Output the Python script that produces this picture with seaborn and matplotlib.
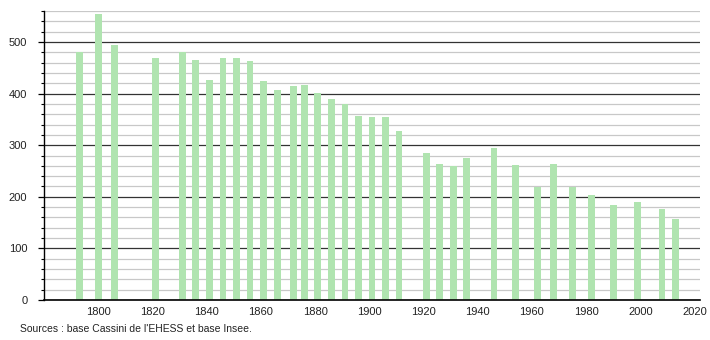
import matplotlib
matplotlib.use("Agg")
import matplotlib.pyplot as plt
import seaborn as sns
import numpy as np
import pandas as pd

years = [1793, 1800, 1806, 1821, 1831, 1836, 1841, 1846, 1851, 1856, 1861,
         1866, 1872, 1876, 1881, 1886, 1891, 1896, 1901, 1906, 1911, 1921,
         1926, 1931, 1936, 1946, 1954, 1962, 1968, 1975, 1982, 1990, 1999,
         2008, 2013]
population = [480, 555, 495, 468, 481, 465, 426, 469, 468, 464, 424,
              407, 415, 417, 401, 390, 380, 357, 355, 355, 328, 285,
              264, 260, 276, 295, 262, 219, 264, 219, 204, 185, 190,
              177, 156]
x_ticks = [1800, 1820, 1840, 1860, 1880, 1900, 1920, 1940, 1960, 1980, 2000, 2020]
y_ticks = [0, 100, 200, 300, 400, 500]
source = "Sources : base Cassini de l'EHESS et base Insee."

sns.set_style("white")
plt.rcParams['font.family'] = ['Liberation Sans', 'DejaVu Sans']

df = pd.DataFrame({"year": years, "pop": population})

fig = plt.figure(figsize=(7.1, 3.4), dpi=100)
ax = fig.add_axes([44/710, 1-300/340, (700-44)/710, (300-11)/340])

# gridlines
for v in range(0, 561, 20):
    if v % 100 == 0:
        ax.axhline(v, color="#333333", lw=0.9, zorder=0)
    else:
        ax.axhline(v, color="#c8c8c8", lw=0.9, zorder=0)

sns.barplot(data=df, x="year", y="pop", native_scale=True, width=0.625,
            color="#b0e4b0", saturation=1, errorbar=None, ax=ax, zorder=2,
            linewidth=0)

ax.set_xlim(1780, 2022)
ax.set_ylim(0, 560)
ax.set_xlabel("")
ax.set_ylabel("")
ax.set_xticks(x_ticks)
ax.set_xticklabels([str(t) for t in x_ticks], fontsize=8, color="#222222")
ax.set_yticks(y_ticks)
ax.set_yticklabels([str(t) for t in y_ticks], fontsize=8, color="#222222")
ax.set_yticks(np.arange(0, 561, 20), minor=True)
ax.tick_params(axis="y", which="major", left=True, length=4, width=0.9,
               color="black", pad=8)
ax.tick_params(axis="y", which="minor", left=True, length=2, width=0.8,
               color="black")
ax.tick_params(axis="x", which="both", bottom=False, length=0, pad=5)

for s in ["top", "right"]:
    ax.spines[s].set_visible(False)
ax.spines["left"].set_color("black")
ax.spines["left"].set_linewidth(1.0)
ax.spines["bottom"].set_color("black")
ax.spines["bottom"].set_linewidth(1.2)
ax.grid(False)

fig.text(20/710, 1-329/340, source, fontsize=7.5, color="#222222",
         ha="left", va="center")

fig.savefig("out.png", dpi=100)
